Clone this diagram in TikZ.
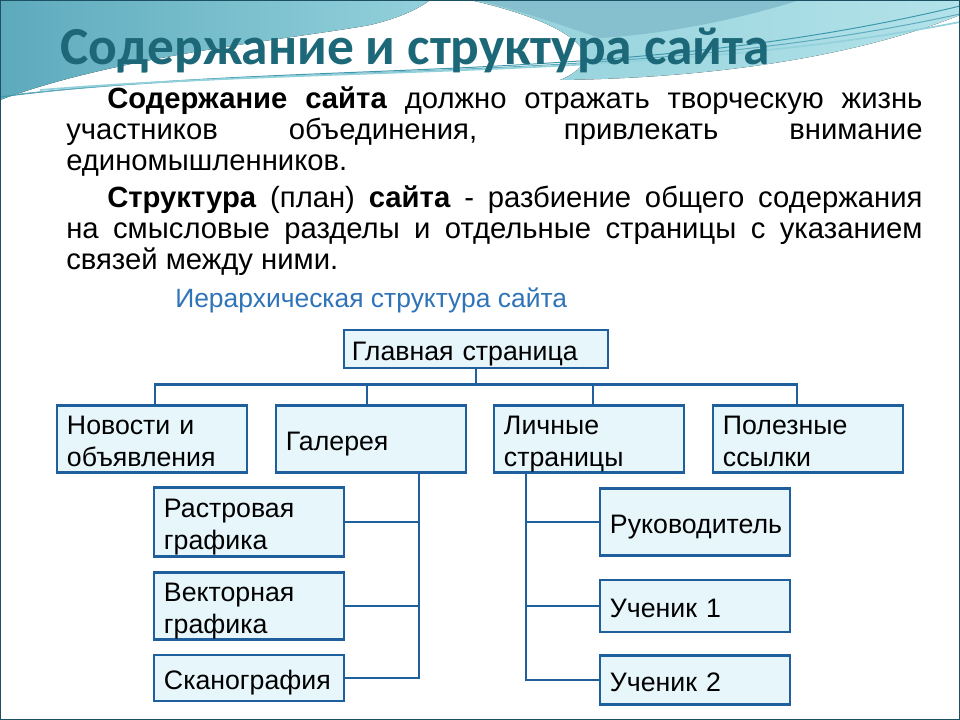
\documentclass[tikz,border=0pt]{standalone}
\usepackage{fontspec}
\setmainfont{Liberation Sans}
\newfontfamily\titlefont{Carlito}
\usetikzlibrary{calc}

\definecolor{boxline}{HTML}{1F5F9E}
\definecolor{boxfill}{HTML}{E6F6FB}
\definecolor{titleteal}{HTML}{1C6878}
\definecolor{subblue}{HTML}{2F74B8}
\definecolor{frameline}{HTML}{1B5163}
\definecolor{waveA}{HTML}{5DAABD}
\definecolor{waveB}{HTML}{93D1DB}
\definecolor{waveC}{HTML}{B3E2E9}
\definecolor{waveD}{HTML}{3E98AD}

\begin{document}
\begin{tikzpicture}[x=0.025cm, y=-0.025cm,
    every node/.style={font=\fontsize{19pt}{22.8pt}\selectfont, inner sep=0pt},
    pagebox/.style={draw=boxline, fill=boxfill, line width=2pt, align=left, inner xsep=0.25cm, text width=4.25cm, text height=20.5pt, execute at end node={\rule[-4pt]{0pt}{4pt}}, minimum height=#1},
    mainbox/.style={pagebox=0.95cm, text width=6.2cm, inner xsep=0.2cm},
    link/.style={draw=boxline, line width=2pt},
    bodytext/.style={text width=21.4cm, align=justify, font=\fontsize{20.8pt}{21.7pt}\selectfont},
    waveline/.style={draw=waveD, line width=0.7pt}
]
\useasboundingbox (0,0) rectangle (960,720);
\fill[white] (0,0) rectangle (960,720);
% top wave
\fill[left color=waveA, right color=waveB] (0,0) -- (430,0) .. controls (420,8) and (400,18) .. (370,25) .. controls (300,38) and (120,55) .. (0,100) -- cycle;
\fill[left color=waveB, right color=waveC] (470,0) -- (960,0) -- (960,15) .. controls (860,55) and (720,78) .. (560,80) .. controls (620,55) and (560,20) .. (470,0) -- cycle;
\fill[waveA!75] (475,0) -- (800,0) .. controls (720,25) and (650,35) .. (600,38) .. controls (560,25) and (520,10) .. (475,0) -- cycle;
\draw[waveline] (0,97) .. controls (300,58) and (620,88) .. (960,6);
\draw[waveline, draw=waveA] (20,94) .. controls (320,62) and (640,84) .. (960,14);
\draw[waveline, draw=waveB, line width=1.2pt] (40,90) .. controls (330,66) and (660,80) .. (960,22);
\draw[frameline, line width=1.5pt] (0,0) rectangle (960,720);

\node[anchor=base west, font=\titlefont\bfseries\fontsize{38pt}{42pt}\selectfont, text=titleteal] (title) at (60,65) {Содержание и структура сайта};

\node[bodytext, anchor=base west] (intro) at (66,109) {\hspace*{1.025cm}\textbf{Содержание сайта} должно отражать творческую жизнь\linebreak участников объединения, привлекать внимание\linebreak единомышленников.\par\vspace{5.3pt}
\hspace*{1.025cm}\textbf{Структура} (план) \textbf{сайта} - разбиение общего содержания\linebreak на смысловые разделы и отдельные страницы с указанием\linebreak связей между ними.};

\node[anchor=base west, font=\fontsize{18.8pt}{22pt}\selectfont, text=subblue] (subtitle) at (175,308) {Иерархическая структура сайта};

% boxes
\node[mainbox] (main) at (476,349) {Главная страница};
\node[pagebox=1.68cm] (news) at (152,439) {Новости и\\объявления};
\node[pagebox=1.68cm] (gallery) at (371,439) {Галерея};
\node[pagebox=1.68cm] (personal) at (589,439) {Личные\\страницы};
\node[pagebox=1.68cm] (links) at (808,439) {Полезные\\ссылки};
\node[pagebox=1.72cm] (raster) at (249,522) {Растровая\\графика};
\node[pagebox=1.68cm] (vector) at (249,606) {Векторная\\графика};
\node[pagebox=1.15cm] (scan) at (249,678) {Сканография};
\node[pagebox=1.68cm] (head) at (695,522) {Руководитель};
\node[pagebox=1.3cm] (stud1) at (695,606) {Ученик 1};
\node[pagebox=1.22cm] (stud2) at (695,680) {Ученик 2};

% connectors
\coordinate (bus) at ($(main.south)+(0,15)$);
\draw[link] (main.south) -- (bus);
\draw[link] ($(news.north)+(3,0)$) |- (bus) -| ($(links.north)+(-11,0)$);
\draw[link] ($(gallery.north)+(-4,0)$) |- (bus);
\draw[link] ($(personal.north)+(4,0)$) |- (bus);
\coordinate (gdrop) at ($(gallery.south)+(48,0)$);
\draw[link] (gdrop) |- (scan.east);
\foreach \n in {raster, vector}
  \draw[link] (\n.east) -- (\n.east -| gdrop);
\coordinate (pdrop) at ($(personal.south)+(-63,0)$);
\draw[link] (pdrop) |- (stud2.west);
\foreach \n in {head, stud1}
  \draw[link] (\n.west -| pdrop) -- (\n.west);
\end{tikzpicture}
\end{document}
